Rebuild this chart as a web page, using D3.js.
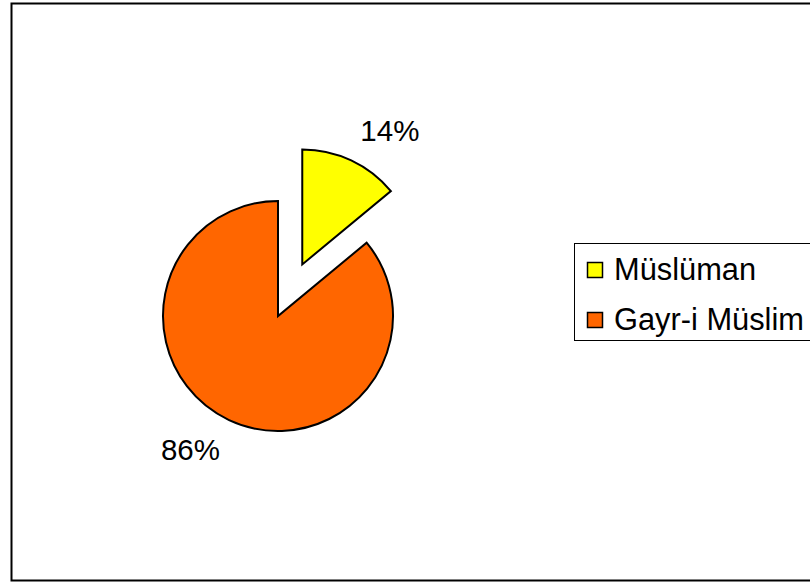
<!DOCTYPE html>
<html>
<head>
<meta charset="utf-8">
<script src="https://cdn.jsdelivr.net/npm/d3@7"></script>
<style>
  html, body { margin: 0; padding: 0; background: #fff; }
  svg { display: block; }
  text { font-family: "Liberation Sans", Arial, sans-serif; }
</style>
</head>
<body>
<svg id="chart" width="810" height="583"></svg>
<script>
// ---- data ----
const categories = ["Müslüman", "Gayr-i Müslim"];
const values = [14, 86];
const colors = ["#FFFF00", "#FF6600"];
const explode = [true, false];

// ---- layout ----
const svg = d3.select("#chart");

// outer frame
svg.append("rect")
  .attr("x", 11.5).attr("y", 3.5)
  .attr("width", 820).attr("height", 577)
  .attr("fill", "#fff").attr("stroke", "#000").attr("stroke-width", 2);

const cx = 278, cy = 316, R = 115, explodeDist = 57;
const total = d3.sum(values);
const fmt = v => Math.round(v / total * 100) + "%";

const pie = d3.pie().sort(null).value(d => d)(values);
const arc = d3.arc().innerRadius(0).outerRadius(R);

const g = svg.append("g").attr("transform", `translate(${cx},${cy})`);

pie.forEach((p, i) => {
  const mid = (p.startAngle + p.endAngle) / 2;
  const off = explode[i] ? explodeDist : 0;
  const ox = Math.sin(mid) * off, oy = -Math.cos(mid) * off;
  const sg = g.append("g").attr("transform", `translate(${ox},${oy})`);
  sg.append("path")
    .attr("d", arc(p))
    .attr("fill", colors[i])
    .attr("stroke", "#000")
    .attr("stroke-width", 2)
    .attr("stroke-linejoin", "miter");
  // label outside the slice
  const la = mid + 8 * Math.PI / 180, lr = 160;
  sg.append("text")
    .attr("x", Math.sin(la) * lr)
    .attr("y", -Math.cos(la) * lr)
    .attr("text-anchor", "middle")
    .attr("dominant-baseline", "central")
    .attr("font-size", 29.5)
    .attr("fill", "#000")
    .text(fmt(values[i]));
});

// legend
const lg = svg.append("g");
lg.append("rect")
  .attr("x", 574.5).attr("y", 243.5)
  .attr("width", 260).attr("height", 97)
  .attr("fill", "#fff").attr("stroke", "#000").attr("stroke-width", 1);

const legendY = d3.scalePoint().domain(categories).range([270, 320]);
categories.forEach((c, i) => {
  const y = legendY(c);
  lg.append("rect")
    .attr("x", 587.5).attr("y", y - 7.5)
    .attr("width", 15).attr("height", 15)
    .attr("fill", colors[i]).attr("stroke", "#000").attr("stroke-width", 1.5);
  lg.append("text")
    .attr("x", 614).attr("y", y + 9.5)
    .attr("font-size", 30.8)
    .attr("fill", "#000")
    .text(c);
});
</script>
</body>
</html>
